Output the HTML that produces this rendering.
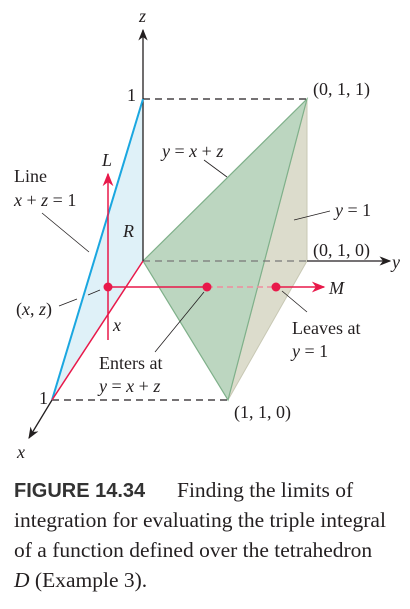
<!DOCTYPE html>
<html><head><meta charset="utf-8"><style>
body{margin:0;background:#fff;width:410px;height:609px;overflow:hidden}
svg{position:absolute;left:0;top:0}
text{font-family:"Liberation Serif",serif;font-size:18px;fill:#231f20}
.i{font-style:italic}
.cap{font-size:21.5px}
</style></head><body>
<svg width="410" height="609" viewBox="0 0 410 609">
<defs>
<marker id="ak" viewBox="0 0 10 10" refX="9" refY="5" markerWidth="9" markerHeight="9" orient="auto"><path d="M0,1 L10,5 L0,9 L3,5 z" fill="#231f20"/></marker>
<marker id="ar" viewBox="0 0 10 10" refX="9" refY="5" markerWidth="9" markerHeight="9" orient="auto"><path d="M0,1 L10,5 L0,9 L3,5 z" fill="#e8194a"/></marker>
</defs>
<polygon points="143,261 143,99 52,400" fill="#dff1f8"/>
<polygon points="307,99 307,261 228,400" fill="#dcdccc" stroke="#c8c8b4" stroke-width="1"/>
<polygon points="143,261 307,99 228,400" fill="#bcd6c0" stroke="#7fb08a" stroke-width="1.2"/>
<line x1="143" y1="99" x2="307" y2="99" stroke="#231f20" stroke-dasharray="7,5" stroke-width="1.2"/>
<line x1="52" y1="400" x2="228" y2="400" stroke="#231f20" stroke-dasharray="7,5" stroke-width="1.2"/>
<line x1="143" y1="261" x2="307" y2="261" stroke="#777" stroke-dasharray="7,5" stroke-width="1.2"/>
<line x1="307" y1="261" x2="390" y2="261" stroke="#231f20" stroke-width="1.3" marker-end="url(#ak)"/>
<line x1="143" y1="261" x2="143" y2="30" stroke="#231f20" stroke-width="1.3" marker-end="url(#ak)"/>
<line x1="52" y1="400" x2="29" y2="438" stroke="#231f20" stroke-width="1.3" marker-end="url(#ak)"/>
<line x1="143" y1="99" x2="52" y2="400" stroke="#1aa7e0" stroke-width="2"/>
<line x1="143" y1="261" x2="52" y2="400" stroke="#e8194a" stroke-width="1.5"/>
<line x1="108" y1="340" x2="108" y2="174" stroke="#e8194a" stroke-width="1.5" marker-end="url(#ar)"/>
<line x1="108" y1="287" x2="207" y2="287" stroke="#e8194a" stroke-width="1.5"/>
<line x1="207" y1="287" x2="276" y2="287" stroke="#f08c9e" stroke-dasharray="6,4" stroke-width="1.5"/>
<line x1="276" y1="287" x2="324" y2="287" stroke="#e8194a" stroke-width="1.5" marker-end="url(#ar)"/>
<circle cx="108" cy="287" r="4.5" fill="#e8194a"/>
<circle cx="207" cy="287" r="4.5" fill="#e8194a"/>
<circle cx="276" cy="287" r="4.5" fill="#e8194a"/>
<g stroke="#231f20" stroke-width="0.8">
<line x1="42" y1="213" x2="89" y2="252"/>
<line x1="59" y1="306" x2="77" y2="299"/><line x1="88" y1="295" x2="100" y2="290"/>
<line x1="155" y1="352" x2="204" y2="292"/>
<line x1="282" y1="291" x2="307" y2="312"/>
<line x1="204" y1="160" x2="227" y2="177"/>
<line x1="294" y1="220" x2="330" y2="211"/>
</g>
<text class="i" x="139" y="22">z</text>
<text class="i" x="392" y="268">y</text>
<text class="i" x="17" y="458">x</text>
<text x="127" y="101">1</text>
<text x="39" y="404">1</text>
<text x="313" y="95">(0, 1, 1)</text>
<text x="313" y="256">(0, 1, 0)</text>
<text x="234" y="418">(1, 1, 0)</text>
<text x="162" y="157"><tspan class="i">y</tspan> = <tspan class="i">x</tspan> + <tspan class="i">z</tspan></text>
<text x="335" y="216"><tspan class="i">y</tspan> = 1</text>
<text class="i" x="102" y="166">L</text>
<text class="i" x="123" y="237">R</text>
<text x="14" y="182">Line</text>
<text x="14" y="206"><tspan class="i">x</tspan> + <tspan class="i">z</tspan> = 1</text>
<text x="16" y="315">(<tspan class="i">x</tspan>, <tspan class="i">z</tspan>)</text>
<text class="i" x="113" y="331">x</text>
<text class="i" x="329" y="294">M</text>
<text x="99" y="369">Enters at</text>
<text x="99" y="392"><tspan class="i">y</tspan> = <tspan class="i">x</tspan> + <tspan class="i">z</tspan></text>
<text x="292" y="334">Leaves at</text>
<text x="292" y="357"><tspan class="i">y</tspan> = 1</text>
<g>
<text x="14" y="497" style="font-family:'Liberation Sans',sans-serif;font-weight:bold;font-size:20px;fill:#333">FIGURE 14.34</text>
<text class="cap" x="177" y="497">Finding the limits of</text>
<text class="cap" x="14" y="527">integration for evaluating the triple integral</text>
<text class="cap" x="14" y="557">of a function defined over the tetrahedron</text>
<text class="cap" x="14" y="587"><tspan class="i">D</tspan> (Example 3).</text>
</g>
</svg>
</body></html>
